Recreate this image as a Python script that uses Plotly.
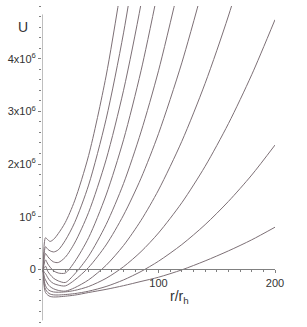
import plotly.graph_objects as go

# radial coordinate r/r_h
r_grid = [1, 2, 3, 5, 7, 10, 14, 20, 28, 40, 55, 70, 85, 100, 120, 140, 160, 180, 200]

# U values in units of 10^6 (one list per curve, top to bottom)
u_curve1 = [0, 0.50, 0.60, 0.56, 0.53, 0.57, 0.68, 0.89, 1.30, 2.16, 3.67, 5.65]
u_curve2 = [0, 0.33, 0.43, 0.38, 0.35, 0.33, 0.37, 0.55, 0.887, 1.60, 2.85, 4.49, 6.53]
u_curve3 = [0, 0.22, 0.30, 0.24, 0.19, 0.14, 0.13, 0.23, 0.50, 1.08, 2.08, 3.40, 5.04, 7.0]
u_curve4 = [0, 0.12, 0.18, 0.10, 0.04, -0.03, -0.07, -0.07, 0.142, 0.60, 1.41, 2.46, 3.77, 5.34]
u_curve5 = [0, 0.03, 0.06, -0.04, -0.10, -0.17, -0.22, -0.25, -0.09, 0.25, 0.85, 1.63, 2.61, 3.77, 5.61]
u_curve6 = [0, -0.06, -0.08, -0.16, -0.22, -0.27, -0.30, -0.315, -0.204, 0.036, 0.463, 1.03, 1.73, 2.575, 3.92, 5.50]
u_curve7 = [0, -0.15, -0.20, -0.28, -0.33, -0.37, -0.40, -0.414, -0.35, -0.20, 0.076, 0.453, 0.93, 1.506, 2.43, 3.53, 4.81, 6.27]
u_curve8 = [0, -0.23, -0.31, -0.38, -0.41, -0.43, -0.435, -0.428, -0.401, -0.326, -0.171, 0.05, 0.336, 0.69, 1.264, 1.956, 2.766, 3.694, 4.74]
u_curve9 = [0, -0.30, -0.38, -0.44, -0.47, -0.485, -0.487, -0.479, -0.461, -0.415, -0.326, -0.201, -0.041, 0.154, 0.47, 0.848, 1.289, 1.79, 2.36]
u_curve10 = [0, -0.35, -0.44, -0.49, -0.515, -0.525, -0.522, -0.51, -0.49, -0.44, -0.38, -0.31, -0.23, -0.15, -0.01, 0.16, 0.35, 0.56, 0.80]

curves = [u_curve1, u_curve2, u_curve3, u_curve4, u_curve5,
          u_curve6, u_curve7, u_curve8, u_curve9, u_curve10]

y_tickvals = [0, 1, 2, 3, 4]
y_ticktext = ["0", "10<sup>6</sup>", "2x10<sup>6</sup>", "3x10<sup>6</sup>", "4x10<sup>6</sup>"]
x_tickvals = [100, 200]
x_ticktext = ["100", "200"]

line_col = "#7d7076"
axis_col = "#808080"
text_col = "#333333"
font_family = "Liberation Sans, Arial, sans-serif"

fig = go.Figure()
for u in curves:
    n = len(u)
    fig.add_trace(go.Scatter(
        x=r_grid[:n], y=u, mode="lines",
        line=dict(color=line_col, width=1, shape="spline", smoothing=0.8),
        hoverinfo="skip", showlegend=False, cliponaxis=True,
    ))

y_min, y_max = -1.0, 5.0
x_axis_pos = (0 - y_min) / (y_max - y_min)

fig.update_layout(
    width=307, height=327,
    margin=dict(l=42, r=32, t=6, b=5, autoexpand=False),
    paper_bgcolor="white", plot_bgcolor="white",
    font=dict(family=font_family, size=11, color=text_col),
    xaxis=dict(
        range=[0, 200], showgrid=False, zeroline=False, automargin=False,
        showline=True, linecolor=axis_col, linewidth=1,
        anchor="free", position=x_axis_pos,
        tickvals=x_tickvals, ticktext=x_ticktext,
        ticks="outside", ticklen=3, tickcolor=axis_col,
        minor=dict(dtick=10, ticks="outside", ticklen=2, tickcolor=axis_col),
        tickfont=dict(size=11, color=text_col),
    ),
    yaxis=dict(
        range=[y_min, y_max], showgrid=False, zeroline=False, automargin=False,
        showline=False,
        tickvals=y_tickvals, ticktext=y_ticktext,
        ticks="outside", ticklen=3, tickcolor=axis_col,
        minor=dict(tick0=0, dtick=0.2, ticks="outside", ticklen=2, tickcolor=axis_col),
        tickfont=dict(size=11, color=text_col),
    ),
    shapes=[dict(type="line", xref="x", yref="y", x0=0, x1=0, y0=-0.97, y1=4.84,
                 line=dict(color=axis_col, width=1))],
    annotations=[
        dict(text="U", xref="paper", yref="paper", x=-0.08, y=0.935,
             xanchor="center", yanchor="middle", showarrow=False,
             font=dict(size=14, color=text_col)),
        dict(text="r/r<sub>h</sub>", xref="x", yref="y", x=118, y=-0.52,
             xanchor="center", yanchor="middle", showarrow=False,
             font=dict(size=14, color=text_col)),
    ],
)

fig.write_html("out.html",
               config={"displayModeBar": False, "staticPlot": True},
               post_script="document.body.style.margin='0';document.body.style.overflow='hidden';")
